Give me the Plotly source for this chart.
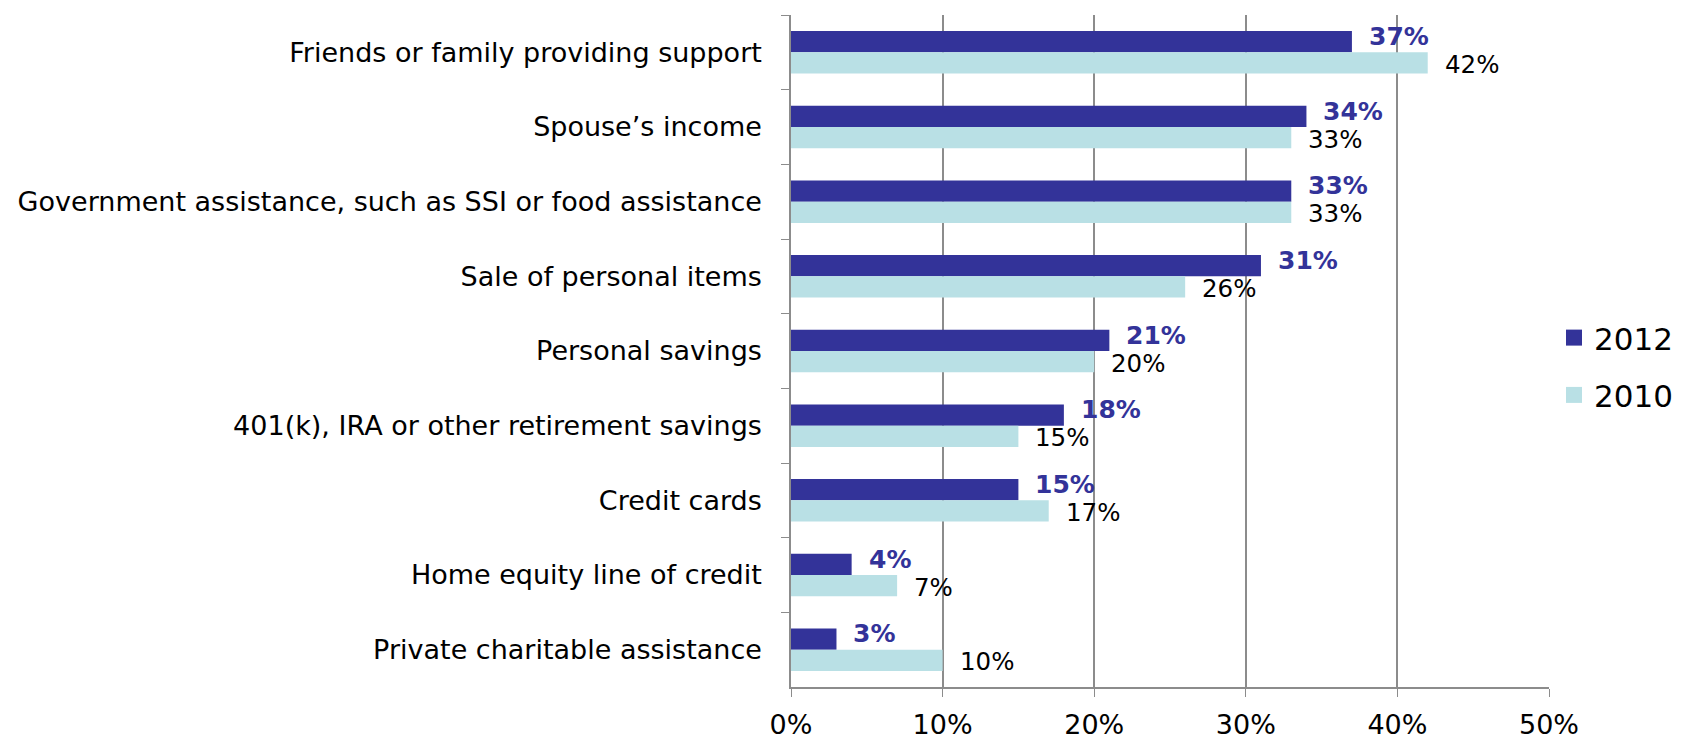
import plotly.graph_objects as go

categories = [
    "Friends or family providing support",
    "Spouse’s income",
    "Government assistance, such as SSI or food assistance",
    "Sale of personal items",
    "Personal savings",
    "401(k), IRA or other retirement savings",
    "Credit cards",
    "Home equity line of credit",
    "Private charitable assistance",
]
values_2012 = [37, 34, 33, 31, 21, 18, 15, 4, 3]
values_2010 = [42, 33, 33, 26, 20, 15, 17, 7, 10]
x_ticks = [0, 10, 20, 30, 40, 50]
x_tick_labels = ["0%", "10%", "20%", "30%", "40%", "50%"]

C2012 = "#333399"
C2010 = "#B9E0E5"
FONT = "DejaVu Sans"

fig = go.Figure()
fig.add_trace(go.Bar(y=categories, x=values_2012, orientation="h", name="2012",
                     marker=dict(color=C2012, line=dict(width=0)), showlegend=False))
fig.add_trace(go.Bar(y=categories, x=values_2010, orientation="h", name="2010",
                     marker=dict(color=C2010, line=dict(width=0)), showlegend=False))
# legend entries with larger square swatches
fig.add_trace(go.Scatter(x=[None], y=[None], mode="markers", name="2012", legendgroup="a",
                         marker=dict(symbol="square", size=18, color=C2012)))
fig.add_trace(go.Scatter(x=[None], y=[None], mode="markers", name="2010", legendgroup="b",
                         marker=dict(symbol="square", size=18, color=C2010)))

annotations = []
for c, v in zip(categories, values_2012):
    annotations.append(dict(x=v, y=c, xref="x", yref="y", text=f"<b>{v}%</b>",
                            showarrow=False, xanchor="left", yanchor="middle",
                            xshift=15, yshift=16,
                            font=dict(family=FONT, size=25, color=C2012)))
for c, v in zip(categories, values_2010):
    annotations.append(dict(x=v, y=c, xref="x", yref="y", text=f"{v}%",
                            showarrow=False, xanchor="left", yanchor="middle",
                            xshift=15, yshift=-12,
                            font=dict(family=FONT, size=24.5, color="#000000")))

fig.update_layout(
    width=1681, height=739,
    margin=dict(l=783, r=140, t=7, b=49),
    paper_bgcolor="white", plot_bgcolor="white",
    barmode="group", bargap=0.43, bargroupgap=0,
    font=dict(family=FONT, size=27, color="#000000"),
    annotations=annotations,
    legend=dict(x=1.0066, y=0.477, xanchor="left", yanchor="middle",
                font=dict(family=FONT, size=31, color="#000000"),
                itemsizing="trace", tracegroupgap=14, bgcolor="rgba(0,0,0,0)"),
    xaxis=dict(range=[0, 50], tickvals=x_ticks, ticktext=x_tick_labels,
               showgrid=True, gridcolor="#8C8C8C", gridwidth=1.5,
               showline=True, linecolor="#8C8C8C", linewidth=1.5,
               ticks="outside", ticklen=8, tickcolor="#8C8C8C",
               ticklabelstandoff=5,
               tickfont=dict(family=FONT, size=27, color="#000000"),
               zeroline=False, fixedrange=True),
    yaxis=dict(type="category", autorange="reversed",
               showline=True, linecolor="#8C8C8C", linewidth=1.5,
               ticks="outside", ticklen=8, tickcolor="#8C8C8C", tickson="boundaries",
               ticklabelstandoff=22,
               tickfont=dict(family=FONT, size=27, color="#000000"),
               showgrid=False, fixedrange=True),
)

fig.write_html("out.html")
